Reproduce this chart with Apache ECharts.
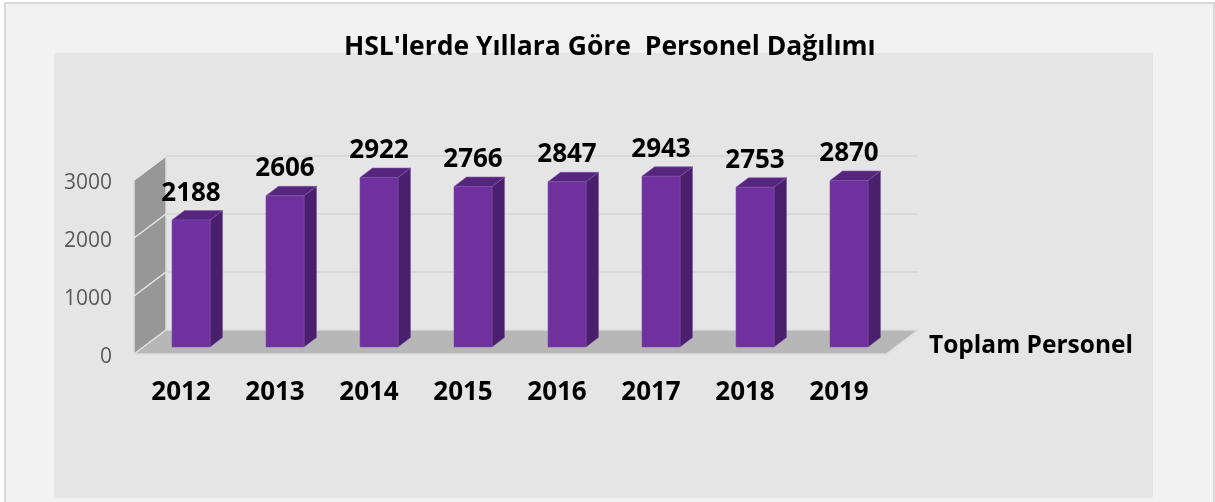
<!DOCTYPE html>
<html><head><meta charset="utf-8">
<style>html,body{margin:0;padding:0;background:#fff}#c{position:absolute;left:0;top:0;width:1215px;height:502px}</style>
<script src="https://cdn.jsdelivr.net/npm/echarts@6/dist/echarts.min.js"></script>
</head><body><div id="c"></div>
<script>
const titleText = "HSL'lerde Yıllara Göre  Personel Dağılımı";
const seriesName = "Toplam Personel";
const years = ["2012","2013","2014","2015","2016","2017","2018","2019"];
const personel = [2188,2606,2922,2766,2847,2943,2753,2870];
const yTicks = [0,1000,2000,3000];

const FONT = '"Open Sans"';
const DX = 32, DY = -24;          // chart-floor depth
const BW = 38, BDX = 12.5, BDY = -9.5, BX = 10, BY = -7; // bar sizes

const chart = echarts.init(document.getElementById('c'), null, {renderer:'canvas'});
chart.setOption({
  animation:false,
  backgroundColor:'#ffffff',
  graphic:[
    {type:'rect',z:-20,shape:{x:5,y:3,width:1209,height:510},style:{fill:'#f2f2f2',stroke:'#d9d9d9',lineWidth:2}},
    {type:'rect',z:-19,shape:{x:54,y:53,width:1099,height:445},style:{fill:'#e5e5e5'}},
    {type:'text',z:10,x:929,y:346,style:{text:seriesName,fill:'#000',font:'bold 24.5px '+FONT,textVerticalAlign:'middle'}}
  ],
  title:{text:titleText,left:339,top:29,itemGap:0,
    textStyle:{fontFamily:FONT,fontWeight:'bold',fontSize:26.5,color:'#000'}},
  grid:{left:134,right:329,top:180,bottom:148},
  xAxis:{type:'category',data:years,axisLine:{show:false},axisTick:{show:false},
    axisLabel:{margin:26,color:'#000',fontFamily:FONT,fontWeight:'bold',fontSize:26}},
  yAxis:{type:'value',min:0,max:3000,interval:1000,axisLine:{show:false},axisTick:{show:false},
    splitLine:{show:false},
    axisLabel:{margin:22,color:'#595959',fontFamily:FONT,fontSize:21,verticalAlign:'top',lineHeight:6,formatter:v=>String(v)}},
  series:[
    { type:'custom',name:'frame',coordinateSystem:'cartesian2d',silent:true,z:1,clip:false,
      data:yTicks.map(v=>[0,v]),
      renderItem(params,api){
        const g = params.coordSys, v = api.value(1), p = api.coord([0,v]);
        const y = p[1], L = g.x, R = g.x+g.width, B = api.coord([0,0])[1], T = api.coord([0,3000])[1];
        const ch = [];
        if(v===0){
          ch.push({type:'polygon',shape:{points:[[L,B],[L+DX,B+DY],[L+DX,T+DY],[L,T]]},style:{fill:'#979797',stroke:'#dcdcdc',lineWidth:1.5}});
          ch.push({type:'polygon',shape:{points:[[L,B],[L+DX,B+DY],[R+DX,B+DY],[R,B]]},style:{fill:'#b7b7b7',stroke:'#dcdcdc',lineWidth:1.5}});
        } else {
          ch.push({type:'line',shape:{x1:L+DX,y1:y+DY,x2:R+DX,y2:y+DY},style:{stroke:'#d9d9d9',lineWidth:2}});
          ch.push({type:'line',shape:{x1:L,y1:y,x2:L+DX,y2:y+DY},style:{stroke:'#e6e6e6',lineWidth:1.5}});
        }
        return {type:'group',children:ch};
      }
    },
    { type:'custom',name:seriesName,coordinateSystem:'cartesian2d',z:3,clip:false,
      data:personel.map((v,i)=>[i,v]),
      encode:{x:0,y:1},
      renderItem(params,api){
        const i = api.value(0), v = api.value(1);
        const base = api.coord([i,0]), top = api.coord([i,v]);
        const l = base[0]-BW/2+BX, r = l+BW, b = base[1]+BY, t = top[1]+BY;
        const edge = {stroke:'#7d52a6',lineWidth:0.6};
        return {type:'group',children:[
          {type:'polygon',shape:{points:[[r,b],[r+BDX,b+BDY],[r+BDX,t+BDY],[r,t]]},style:{fill:'#4a1f6e',...edge}},
          {type:'polygon',shape:{points:[[l,t],[l+BDX,t+BDY],[r+BDX,t+BDY],[r,t]]},style:{fill:'#56267f',...edge}},
          {type:'rect',shape:{x:l,y:t,width:BW,height:b-t},style:{fill:'#70309f',...edge}},
          {type:'text',x:(l+r)/2,y:t-27,style:{text:String(v),fill:'#000',font:'bold 26px '+FONT,textAlign:'center',textVerticalAlign:'middle'}}
        ]};
      }
    }
  ]
});
</script></body></html>
